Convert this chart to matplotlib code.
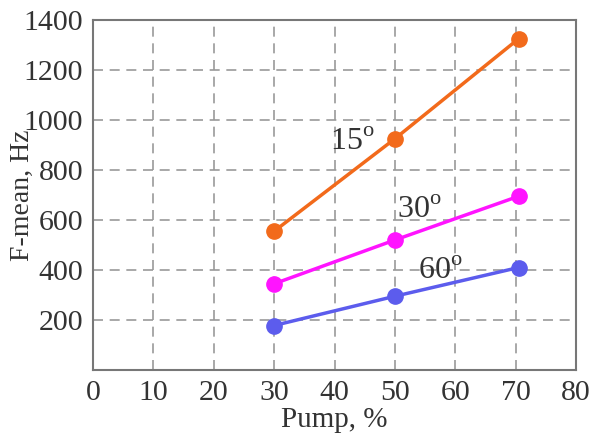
import matplotlib.pyplot as plt

# data
pump = [30, 50, 70.5]
f15 = [555, 925, 1325]
f30 = [345, 520, 695]
f60 = [178, 295, 410]

plt.rcParams['font.family'] = ['Liberation Serif']
plt.rcParams['mathtext.fontset'] = 'custom'
plt.rcParams['mathtext.rm'] = 'Liberation Serif'
fig = plt.figure(figsize=(5.91, 4.42), dpi=100)
ax = fig.add_axes([93 / 591, 1 - 370 / 442, (576 - 93) / 591, (370 - 20) / 442])

ax.plot(pump, f15, "-o", color="#f26a1b", lw=2.5, ms=11, zorder=3)
ax.plot(pump, f30, "-o", color="#ff14ff", lw=2.5, ms=11, zorder=3)
ax.plot(pump, f60, "-o", color="#5c5ced", lw=2.5, ms=11, zorder=3)

ax.text(43.0, 910, "15$^{\\mathregular{o}}$", fontsize=23, color="#333333", ha="center", va="center")
ax.text(54.0, 640, "30$^{\\mathregular{o}}$", fontsize=23, color="#333333", ha="center", va="center")
ax.text(57.5, 395, "60$^{\\mathregular{o}}$", fontsize=23, color="#333333", ha="center", va="center")

ax.set_xlim(0, 80)
ax.set_ylim(0, 1400)
ax.set_xticks(range(0, 90, 10))
ax.set_yticks(range(200, 1600, 200))
ax.grid(True, ls=(0, (6, 4)), color="#999999", lw=1.2)
ax.tick_params(length=0, labelsize=21.5, labelcolor="#333333", pad=7)
for s in ax.spines.values():
    s.set_color("#777777")
    s.set_linewidth(1.5)

ax.set_xlabel("Pump, %", fontsize=21, color="#333333", labelpad=1)
ax.set_ylabel("F-mean, Hz", fontsize=20, color="#333333", va="center")
ax.yaxis.set_label_coords(-(93 - 22) / 483, 0.5)

fig.savefig("out.png", dpi=100)
